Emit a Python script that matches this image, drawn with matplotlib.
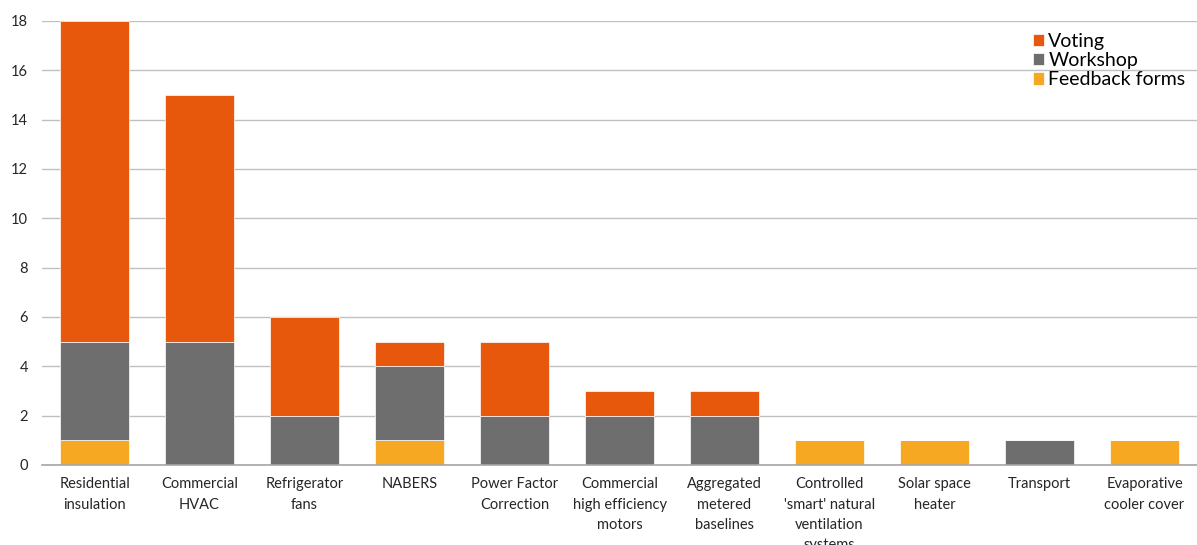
import matplotlib
matplotlib.use("Agg")
import matplotlib.pyplot as plt
import numpy as np

categories = ["Residential\ninsulation", "Commercial\nHVAC", "Refrigerator\nfans", "NABERS",
              "Power Factor\nCorrection", "Commercial\nhigh efficiency\nmotors",
              "Aggregated\nmetered\nbaselines", "Controlled\n'smart' natural\nventilation\nsystems",
              "Solar space\nheater", "Transport", "Evaporative\ncooler cover"]
feedback = [1, 0, 0, 1, 0, 0, 0, 1, 1, 0, 1]
workshop = [4, 5, 2, 3, 2, 2, 2, 0, 0, 1, 0]
voting = [13, 10, 4, 1, 3, 1, 1, 0, 0, 0, 0]
yticks = [0, 2, 4, 6, 8, 10, 12, 14, 16, 18]

plt.rcParams['font.family'] = ['Lato', 'DejaVu Sans']

fig = plt.figure(figsize=(11.97, 5.45), dpi=100)
ax = fig.add_axes([0.0351, 0.1468, 0.9649, 0.8147])

x = np.arange(len(categories))
w = 0.65
c_fb, c_ws, c_vo = "#F7A823", "#6E6E6E", "#E8580C"
fb = np.array(feedback); ws = np.array(workshop); vo = np.array(voting)
ax.bar(x, fb, w, color=c_fb, label="Feedback forms", zorder=3, edgecolor="white", linewidth=0.5)
ax.bar(x, ws, w, bottom=fb, color=c_ws, label="Workshop", zorder=3, edgecolor="white", linewidth=0.5)
ax.bar(x, vo, w, bottom=fb + ws, color=c_vo, label="Voting", zorder=3, edgecolor="white", linewidth=0.5)

ax.set_xlim(-0.5, len(categories) - 0.5)
ax.set_ylim(0, 18)
ax.set_yticks(yticks)
ax.set_xticks(x)
ax.set_xticklabels(categories, fontsize=10.5, color="#262626", linespacing=1.55)
ax.tick_params(axis='y', labelsize=10.5, colors="#262626", length=0, pad=10)
ax.tick_params(axis='x', length=0, pad=9)
ax.yaxis.grid(True, color="#C0C0C0", linewidth=1, zorder=0)
for s in ["top", "right", "left"]:
    ax.spines[s].set_visible(False)
ax.spines["bottom"].set_color("#A6A6A6")
ax.spines["bottom"].set_linewidth(1.2)
ax.spines["bottom"].set_zorder(4)

h, l = ax.get_legend_handles_labels()
leg = ax.legend(h[::-1], l[::-1], loc="upper right", bbox_to_anchor=(1.0, 1.0), frameon=False,
                fontsize=14, handlelength=0.6, handleheight=0.6, handletextpad=0.2,
                labelspacing=0.12, borderaxespad=0.2)

fig.savefig("out.png", dpi=100)
